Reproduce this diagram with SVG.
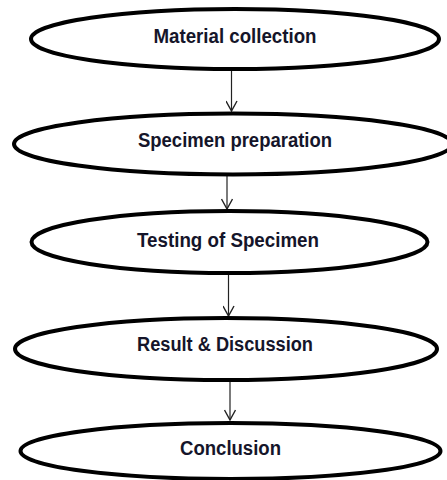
<svg xmlns="http://www.w3.org/2000/svg" width="447" height="480" viewBox="0 0 447 480">
<style>
.node ellipse{fill:#fff;stroke:#000;stroke-width:4}
.node text{font-family:"Liberation Sans",Arial,sans-serif;font-weight:bold;font-size:20px;fill:#15152a;text-anchor:middle}
.conn line{stroke:#222;stroke-width:1.2;fill:none}
</style>
<defs>
<marker id="arr" markerUnits="userSpaceOnUse" markerWidth="12" markerHeight="12" refX="11" refY="6" orient="auto" viewBox="0 0 12 12">
<path d="M1,0.5 L11,6 L1,11.5" fill="none" stroke="#222" stroke-width="1.4"/>
</marker>
</defs>
<rect width="447" height="480" fill="#fff"/>
<g class="conn">
<line x1="231.5" y1="71" x2="231.5" y2="111" marker-end="url(#arr)"/>
<line x1="227" y1="168" x2="227" y2="209" marker-end="url(#arr)"/>
<line x1="228.5" y1="275" x2="228.5" y2="316" marker-end="url(#arr)"/>
<line x1="230" y1="381" x2="230" y2="420" marker-end="url(#arr)"/>
</g>
<g class="node" id="n1">
<ellipse cx="235" cy="39" rx="204" ry="30"/>
<text x="235" y="42.5" textLength="163" lengthAdjust="spacingAndGlyphs">Material collection</text>
</g>
<g class="node" id="n2">
<ellipse cx="233" cy="144" rx="219" ry="30.5"/>
<text x="235" y="147" textLength="194" lengthAdjust="spacingAndGlyphs">Specimen preparation</text>
</g>
<g class="node" id="n3">
<ellipse cx="229.5" cy="242" rx="198" ry="31"/>
<text x="228" y="247" textLength="182" lengthAdjust="spacingAndGlyphs">Testing of Specimen</text>
</g>
<g class="node" id="n4">
<ellipse cx="226" cy="349" rx="211" ry="31"/>
<text x="225" y="351" textLength="176" lengthAdjust="spacingAndGlyphs">Result &amp; Discussion</text>
</g>
<g class="node" id="n5">
<ellipse cx="230.5" cy="451" rx="210" ry="28"/>
<text x="230.5" y="455" textLength="101" lengthAdjust="spacingAndGlyphs">Conclusion</text>
</g>
</svg>
